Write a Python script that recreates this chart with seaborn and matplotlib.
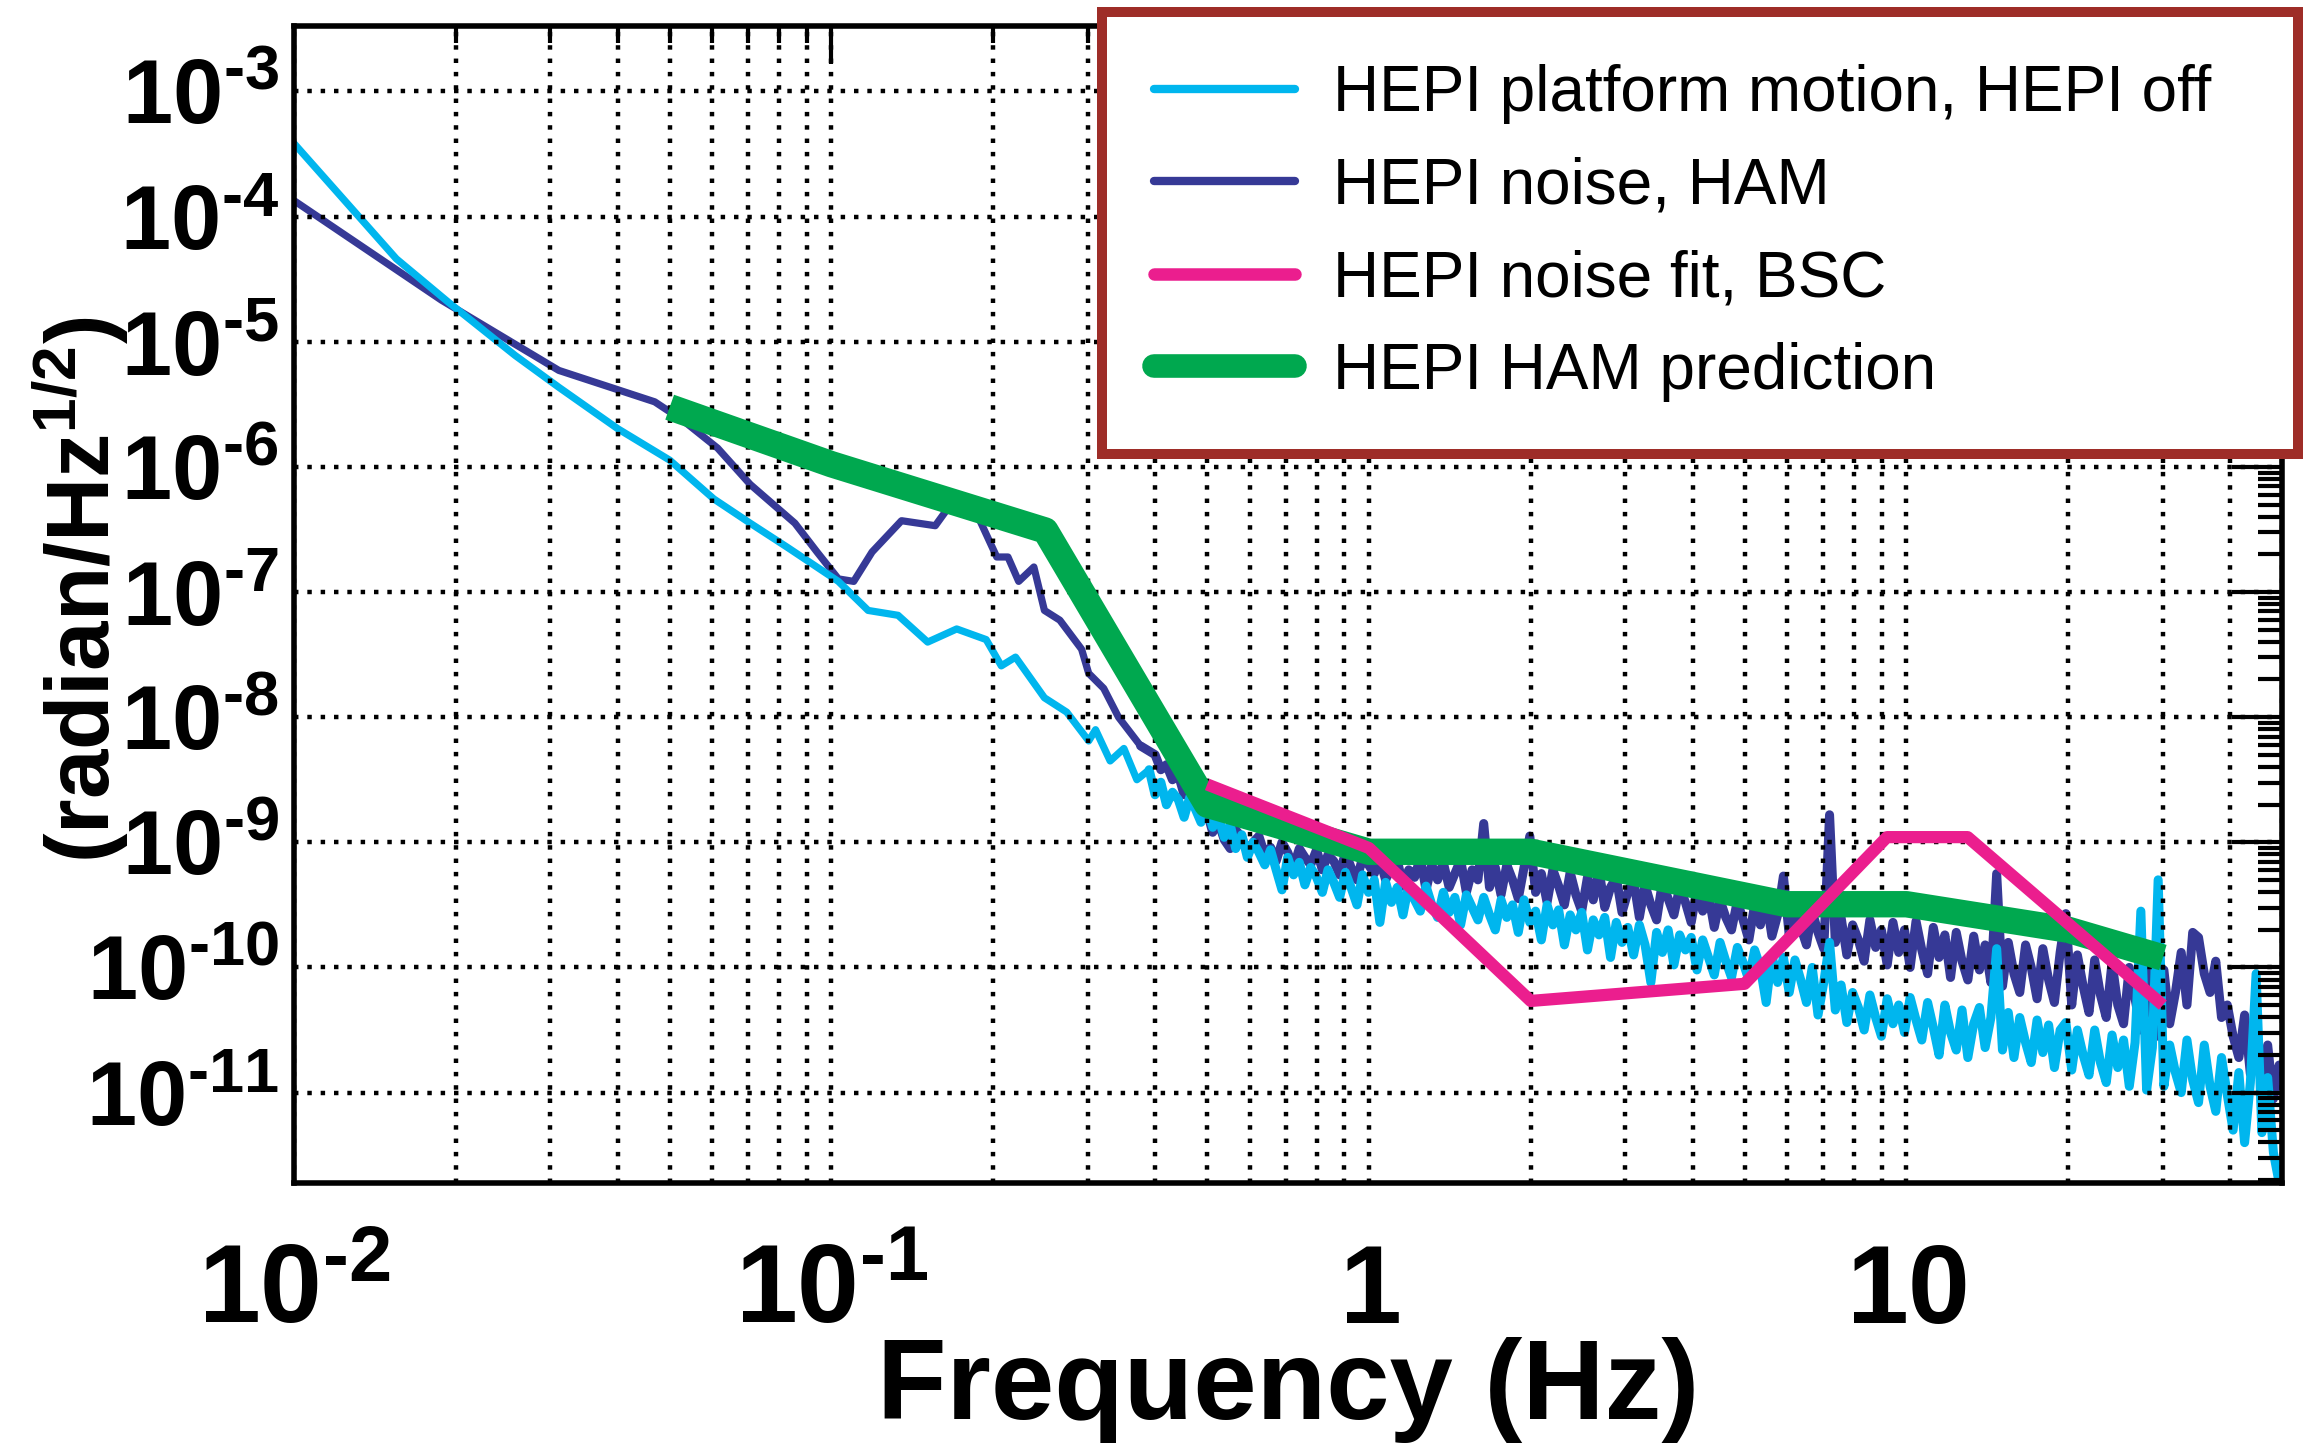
import numpy as np
import seaborn as sns
import matplotlib
matplotlib.use("Agg")
import matplotlib.pyplot as plt
from matplotlib.lines import Line2D
from matplotlib.ticker import FixedLocator, FixedFormatter, LogLocator, NullFormatter

# ---------------- data ----------------
# smooth low-frequency parts (frequency in Hz, log10 of amplitude)
off_low_f = [0.01, 0.0155, 0.0194, 0.0258, 0.0311, 0.040, 0.050, 0.0604, 0.0706, 0.0828,
             0.103, 0.117, 0.133, 0.151, 0.171, 0.194, 0.207, 0.220, 0.249, 0.274, 0.301,
             0.31, 0.33, 0.35, 0.37, 0.39]
off_low_exp = [-3.415, -4.337, -4.686, -5.11, -5.364, -5.694, -5.946, -6.256, -6.45, -6.643,
               -6.915, -7.147, -7.186, -7.40, -7.295, -7.38, -7.59, -7.52, -7.845, -7.96, -8.19,
               -8.10, -8.35, -8.25, -8.50, -8.42]

ham_low_f = [0.01, 0.0188, 0.0311, 0.0469, 0.0532, 0.0614, 0.0706, 0.0855, 0.094, 0.103,
             0.110, 0.119, 0.135, 0.156, 0.166, 0.188, 0.203, 0.213, 0.223, 0.238, 0.249,
             0.266, 0.292, 0.301, 0.321, 0.342, 0.376]
ham_low_exp = [-3.872, -4.667, -5.229, -5.48, -5.636, -5.85, -6.14, -6.45, -6.68, -6.895,
               -6.915, -6.68, -6.43, -6.47, -6.31, -6.41, -6.72, -6.72, -6.915, -6.80, -7.147,
               -7.225, -7.457, -7.65, -7.77, -8.0, -8.23]

# shared frequency bins of the noisy part of both measured spectra (Hz)
noise_f = [0.400, 0.410, 0.420, 0.431, 0.442, 0.453, 0.464, 0.476, 0.487, 0.500,
           0.512, 0.525, 0.538, 0.552, 0.565, 0.580, 0.594, 0.609, 0.624, 0.640,
           0.656, 0.672, 0.689, 0.706, 0.724, 0.742, 0.760, 0.779, 0.799, 0.819,
           0.839, 0.860, 0.882, 0.904, 0.926, 0.950, 0.973, 0.998, 1.023, 1.048,
           1.074, 1.101, 1.129, 1.157, 1.186, 1.216, 1.246, 1.277, 1.309, 1.342,
           1.375, 1.410, 1.445, 1.481, 1.518, 1.556, 1.595, 1.635, 1.676, 1.718,
           1.761, 1.805, 1.850, 1.896, 1.943, 1.992, 2.042, 2.093, 2.145, 2.199,
           2.254, 2.310, 2.368, 2.427, 2.488, 2.550, 2.614, 2.679, 2.746, 2.815,
           2.885, 2.957, 3.031, 3.107, 3.185, 3.264, 3.346, 3.429, 3.515, 3.603,
           3.693, 3.785, 3.880, 3.977, 4.076, 4.178, 4.283, 4.390, 4.500, 4.612,
           4.727, 4.846, 4.967, 5.091, 5.218, 5.349, 5.483, 5.620, 5.760, 5.904,
           6.052, 6.203, 6.358, 6.517, 6.680, 6.847, 7.018, 7.194, 7.374, 7.558,
           7.747, 7.941, 8.139, 8.343, 8.551, 8.765, 8.984, 9.209, 9.439, 9.675,
           9.917, 10.16, 10.42, 10.68, 10.95, 11.22, 11.50, 11.79, 12.08, 12.38,
           12.69, 13.01, 13.34, 13.67, 14.01, 14.36, 14.72, 15.09, 15.47, 15.85,
           16.25, 16.66, 17.07, 17.50, 17.94, 18.39, 18.85, 19.32, 19.80, 20.30,
           20.80, 21.32, 21.86, 22.40, 22.96, 23.54, 24.13, 24.73, 25.35, 25.98,
           26.63, 27.30, 27.98, 28.68, 29.40, 30.13, 30.89, 31.66, 32.45, 33.26,
           34.09, 34.95, 35.82, 36.72, 37.63, 38.57, 39.54, 40.53, 41.54, 42.58,
           43.64, 44.73, 45.85, 47.00, 48.17, 49.37, 50.00]

# HEPI noise, HAM (log10 amplitude in the noisy part)
ham_noise_exp = [-8.30, -8.42, -8.38, -8.50, -8.46, -8.62, -8.55, -8.72, -8.80, -8.76,
                 -8.92, -8.84, -8.98, -9.05, -8.90, -8.96, -9.08, -9.00, -8.95, -9.10,
                 -9.04, -9.15, -9.00, -9.08, -9.20, -9.05, -9.12, -9.18, -9.06, -9.22,
                 -9.10, -9.15, -9.26, -9.08, -9.20, -9.30, -9.12, -9.18, -9.25, -9.14,
                 -9.30, -9.20, -9.14, -9.35, -9.22, -9.28, -9.12, -9.38, -9.18, -9.30,
                 -9.16, -9.36, -9.25, -9.14, -9.40, -9.22, -9.30, -8.85, -9.36, -9.20,
                 -9.42, -9.18, -9.30, -9.45, -9.20, -8.95, -9.40, -9.25, -9.48, -9.22,
                 -9.35, -9.50, -9.24, -9.42, -9.55, -9.28, -9.46, -9.22, -9.52, -9.36,
                 -9.28, -9.56, -9.40, -9.30, -9.60, -9.34, -9.50, -9.62, -9.32, -9.45,
                 -9.58, -9.36, -9.48, -9.64, -9.38, -9.55, -9.42, -9.68, -9.46, -9.60,
                 -9.70, -9.47, -9.62, -9.78, -9.50, -9.66, -9.45, -9.75, -9.58, -9.27,
                 -9.74, -9.52, -9.68, -9.82, -9.55, -9.72, -9.85, -8.78, -9.80, -9.60,
                 -9.90, -9.66, -9.78, -9.95, -9.62, -9.84, -9.70, -9.98, -9.64, -9.88,
                 -9.70, -10.00, -9.63, -9.86, -10.05, -9.68, -9.92, -9.74, -10.08, -9.72,
                 -9.95, -10.10, -9.75, -10.02, -9.82, -10.12, -9.25, -10.15, -9.80, -10.05,
                 -10.20, -9.82, -10.00, -10.25, -9.85, -10.10, -10.28, -9.88, -9.57, -10.30,
                 -9.90, -10.15, -10.36, -9.94, -10.22, -10.40, -9.96, -10.30, -10.45, -10.00,
                 -10.25, -10.50, -9.98, -10.38, -10.55, -10.02, -10.45, -10.20, -9.88, -10.30,
                 -9.72, -9.76, -10.05, -10.20, -9.95, -10.40, -10.30, -10.55, -10.72, -10.38,
                 -10.85, -10.52, -10.95, -10.62, -11.05, -10.78, -10.95]

# HEPI platform motion, HEPI off (log10 amplitude in the noisy part)
off_noise_exp = [-8.62, -8.52, -8.70, -8.60, -8.66, -8.80, -8.64, -8.74, -8.84, -8.72,
                 -8.88, -8.80, -8.96, -8.86, -9.05, -8.94, -9.12, -9.00, -9.08, -9.18,
                 -9.06, -9.22, -9.38, -9.12, -9.26, -9.16, -9.34, -9.20, -9.28, -9.40,
                 -9.22, -9.32, -9.44, -9.24, -9.36, -9.50, -9.26, -9.40, -9.30, -9.64,
                 -9.32, -9.48, -9.36, -9.58, -9.34, -9.46, -9.55, -9.35, -9.50, -9.60,
                 -9.40, -9.56, -9.44, -9.66, -9.42, -9.52, -9.62, -9.44, -9.58, -9.70,
                 -9.46, -9.60, -9.50, -9.72, -9.46, -9.64, -9.55, -9.78, -9.50, -9.66,
                 -9.54, -9.82, -9.58, -9.70, -9.56, -9.86, -9.62, -9.74, -9.60, -9.92,
                 -9.64, -9.80, -9.68, -9.90, -9.66, -9.82, -10.12, -9.72, -9.88, -9.70,
                 -9.98, -9.74, -9.86, -9.76, -10.02, -9.78, -9.92, -10.06, -9.80, -9.95,
                 -10.08, -9.84, -9.96, -10.10, -9.86, -10.00, -10.28, -9.90, -10.12, -9.92,
                 -10.20, -9.94, -10.10, -10.28, -10.00, -10.38, -10.12, -9.80, -10.34, -10.14,
                 -10.44, -10.20, -10.32, -10.50, -10.22, -10.40, -10.55, -10.25, -10.45, -10.30,
                 -10.52, -10.24, -10.42, -10.58, -10.28, -10.48, -10.70, -10.30, -10.52, -10.66,
                 -10.34, -10.72, -10.45, -10.32, -10.64, -10.40, -9.85, -10.66, -10.36, -10.72,
                 -10.40, -10.60, -10.76, -10.42, -10.68, -10.46, -10.80, -10.50, -10.44, -10.82,
                 -10.50, -10.70, -10.86, -10.50, -10.76, -10.92, -10.54, -10.80, -10.58, -10.95,
                 -10.60, -9.55, -10.98, -10.64, -9.30, -10.95, -10.62, -10.84, -11.00, -10.58,
                 -10.90, -11.08, -10.62, -10.95, -11.15, -10.72, -11.02, -11.30, -10.84, -11.40,
                 -10.92, -10.05, -11.32, -10.88, -11.48, -11.72, -11.55]

# HEPI noise fit, BSC
bsc_f = [0.5, 1.0, 2.0, 5.0, 9.2, 13.0, 30.0]
bsc_v = [2.9e-9, 9.0e-10, 5.4e-11, 7.4e-11, 1.1e-9, 1.1e-9, 5.0e-11]

# HEPI HAM prediction
pred_f = [0.05, 0.1, 0.25, 0.5, 1.0, 2.0, 6.0, 10.0, 20.0, 30.0]
pred_v = [3.0e-6, 1.05e-6, 3.1e-7, 2.0e-9, 8.4e-10, 8.4e-10, 3.2e-10, 3.2e-10, 2.0e-10, 1.2e-10]

labels = ["HEPI platform motion, HEPI off", "HEPI noise, HAM",
          "HEPI noise fit, BSC", "HEPI HAM prediction"]
colors = ["#00B6EE", "#363996", "#EB1E8E", "#00A84F"]

x_ticks = [0.01, 0.1, 1, 10]
x_ticklabels = [r"$10^{\text{-2}}$", r"$10^{\text{-1}}$", r"$1$", r"$10$"]
y_exps = [-11, -10, -9, -8, -7, -6, -5, -4, -3]

# ---------------- style ----------------
sns.set_style("white")
plt.rcParams.update({
    "font.family": ["Liberation Sans", "DejaVu Sans"],
    "mathtext.fontset": "custom",
    "mathtext.rm": "Liberation Sans:bold",
    "mathtext.bf": "Liberation Sans:bold",
    "mathtext.it": "Liberation Sans:bold:italic",
    "mathtext.sf": "Liberation Sans:bold",
    "mathtext.default": "rm",
    "text.color": "black",
    "axes.labelcolor": "black",
    "xtick.color": "black",
    "ytick.color": "black",
    "axes.edgecolor": "black",
})

fig = plt.figure(figsize=(23.04, 14.43), dpi=100)
ax = fig.add_axes([0.1276, 0.1804, 0.8629, 0.8013])
ax.set_xscale("log")
ax.set_yscale("log")

# low-frequency segments (thin) and noisy segments (denser band), joined at the last low point
off_low_v = [10.0 ** e for e in off_low_exp]
ham_low_v = [10.0 ** e for e in ham_low_exp]
off_hi_f = off_low_f[-1:] + noise_f
ham_hi_f = ham_low_f[-1:] + noise_f
off_hi_v = off_low_v[-1:] + [10.0 ** e for e in off_noise_exp]
ham_hi_v = ham_low_v[-1:] + [10.0 ** e for e in ham_noise_exp]

sns.lineplot(x=ham_low_f, y=ham_low_v, ax=ax, color=colors[1], linewidth=5.2,
             estimator=None, sort=False, zorder=2.0)
sns.lineplot(x=ham_hi_f, y=ham_hi_v, ax=ax, color=colors[1], linewidth=6.5,
             estimator=None, sort=False, zorder=2.0)
sns.lineplot(x=off_low_f, y=off_low_v, ax=ax, color=colors[0], linewidth=5.2,
             estimator=None, sort=False, zorder=2.1)
sns.lineplot(x=off_hi_f, y=off_hi_v, ax=ax, color=colors[0], linewidth=6.5,
             estimator=None, sort=False, zorder=2.1)
sns.lineplot(x=pred_f, y=pred_v, ax=ax, color=colors[3], linewidth=19,
             estimator=None, sort=False, zorder=3.0, solid_capstyle="butt")
sns.lineplot(x=bsc_f, y=bsc_v, ax=ax, color=colors[2], linewidth=8.8,
             estimator=None, sort=False, zorder=3.1, solid_capstyle="butt")

ax.set_xlim(0.01, 50)
ax.set_ylim(10 ** -11.72, 10 ** -2.48)

# ticks
ax.xaxis.set_major_locator(FixedLocator(x_ticks))
ax.xaxis.set_major_formatter(FixedFormatter(x_ticklabels))
ax.xaxis.set_minor_locator(LogLocator(base=10, subs=np.arange(2, 10), numticks=100))
ax.xaxis.set_minor_formatter(NullFormatter())
y_ticks = [10.0 ** e for e in y_exps]
ax.yaxis.set_major_locator(FixedLocator(y_ticks))
ax.yaxis.set_major_formatter(FixedFormatter([r"$10^{\text{%d}}$" % e for e in y_exps]))
ax.yaxis.set_minor_locator(LogLocator(base=10, subs=np.arange(2, 10), numticks=100))
ax.yaxis.set_minor_formatter(NullFormatter())

ax.tick_params(which="both", direction="in", top=True, right=True, width=3.0,
               color="k", labelcolor="k")
ax.tick_params(axis="x", which="major", length=27, labelsize=80, pad=100.8)
ax.tick_params(axis="x", which="minor", length=12)
ax.tick_params(axis="y", which="major", length=36, labelsize=65, pad=11)
ax.tick_params(axis="y", which="minor", length=17)

for s in ax.spines.values():
    s.set_linewidth(4)
    s.set_color("k")

ax.set_axisbelow(False)
grid_kw = dict(color="k", linestyle=(0, (1.0, 2.0)), linewidth=3.2)
ax.grid(True, which="major", axis="both", **grid_kw)
ax.grid(True, which="minor", axis="x", **grid_kw)

ax.set_xlabel("Frequency (Hz)", fontsize=82, fontweight="bold", color="k")
ax.xaxis.label.set_va("baseline")
ax.xaxis.set_label_coords(0.5, (1183 - 1419) / 1156)
ax.set_ylabel(r"(radian/Hz$^{1/2}$)", fontsize=64, fontweight="bold", color="k")
ax.yaxis.label.set_va("baseline")
ax.yaxis.set_label_coords((110 - 294) / 1988, 0.513)

handles = [Line2D([], [], color=colors[0], lw=6.0),
           Line2D([], [], color=colors[1], lw=6.0),
           Line2D([], [], color=colors[2], lw=9.0),
           Line2D([], [], color=colors[3], lw=17)]
leg = fig.legend(handles, labels, loc="upper left",
                 bbox_to_anchor=(0.4783, 0.9919, 0.5191, 0.0), mode="expand",
                 borderaxespad=0, prop={"family": "Liberation Sans", "weight": "normal", "size": 46},
                 handlelength=2.2, handletextpad=0.6, borderpad=0.82, labelspacing=0.51,
                 frameon=True, fancybox=False, edgecolor="#9E2D28", framealpha=1)
leg.get_frame().set_linewidth(7.2)
for t in leg.get_texts():
    t.set_color("k")

fig.canvas.draw()
for t in ax.get_xticklabels():
    t.set_va("baseline")

fig.savefig("out.png", dpi=100)
